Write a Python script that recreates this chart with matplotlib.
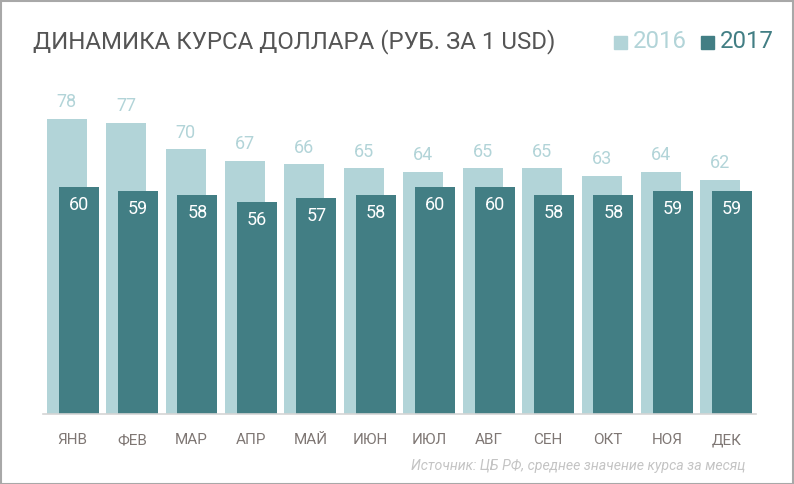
import matplotlib.pyplot as plt
import numpy as np
from matplotlib.patches import Rectangle

months = ['ЯНВ', 'ФЕВ', 'МАР', 'АПР', 'МАЙ', 'ИЮН',
          'ИЮЛ', 'АВГ', 'СЕН', 'ОКТ', 'НОЯ', 'ДЕК']
usd_2016 = [78, 77, 70, 67, 66, 65, 64, 65, 65, 63, 64, 62]
usd_2017 = [60, 59, 58, 56, 57, 58, 60, 60, 58, 58, 59, 59]

light = '#b2d4d8'
dark = '#427e84'

plt.rcParams['font.family'] = ['Roboto', 'DejaVu Sans']

W, H = 794, 484
fig = plt.figure(figsize=(W / 100, H / 100), dpi=100)

# axes: x from 43 to 756 px, y from 413 (baseline) to 100 px
ax = fig.add_axes([43 / W, (H - 414) / H, (756 - 43) / W, (414 - 100) / H])
x = np.arange(len(months))
ppu = 295 / 78.0
ax.set_ylim(0, 314 / ppu)
ax.set_xlim(-0.5, len(months) - 0.5)

w = 0.673
ax.bar(x - 0.1, usd_2016, width=w, color=light, zorder=1)
ax.bar(x + 0.1, usd_2017, width=w, color=dark, zorder=2)

for i in range(len(months)):
    ax.annotate(str(usd_2016[i]), (x[i] - 0.1, usd_2016[i]), xytext=(0, 12),
                textcoords='offset points', ha='center', va='center',
                color=light, fontsize=13)
    ax.annotate(str(usd_2017[i]), (x[i] + 0.1, usd_2017[i]), xytext=(0, -13),
                textcoords='offset points', ha='center', va='center',
                color='white', fontsize=13)

for s in ['top', 'right', 'left']:
    ax.spines[s].set_visible(False)
ax.spines['bottom'].set_color('#d4d4d4')
ax.spines['bottom'].set_linewidth(1.2)
ax.set_yticks([])
ax.set_xticks(x)
ax.set_xticklabels(months, color='#7f7774', fontsize=11)
ax.tick_params(axis='x', length=0, pad=14)

fig.text(33 / W, 1 - 42 / H, 'ДИНАМИКА КУРСА ДОЛЛАРА (РУБ. ЗА 1 USD)',
         fontsize=17.3, color='#555555', va='center', ha='left')

# legend
fig.patches.append(Rectangle((614 / W, 1 - 49 / H), 13 / W, 13 / H,
                             transform=fig.transFigure, color=light))
fig.text(633 / W, 1 - 42 / H, '2016', fontsize=17.3, color=light, va='center')
fig.patches.append(Rectangle((701 / W, 1 - 49 / H), 13 / W, 13 / H,
                             transform=fig.transFigure, color=dark))
fig.text(720 / W, 1 - 42 / H, '2017', fontsize=17.3, color=dark, va='center')

fig.text(745 / W, 1 - 466 / H, 'Источник: ЦБ РФ, среднее значение курса за месяц',
         fontsize=10.2, style='italic', color='#c4c4c4', ha='right', va='center')

# frame
fig.patches.append(Rectangle((0.5 / W, 0.5 / H), 1 - 1.5 / W, 1 - 1.5 / H,
                             transform=fig.transFigure, fill=False,
                             edgecolor='#a8a8a8', linewidth=1.5))

fig.savefig('out.png', dpi=100)
